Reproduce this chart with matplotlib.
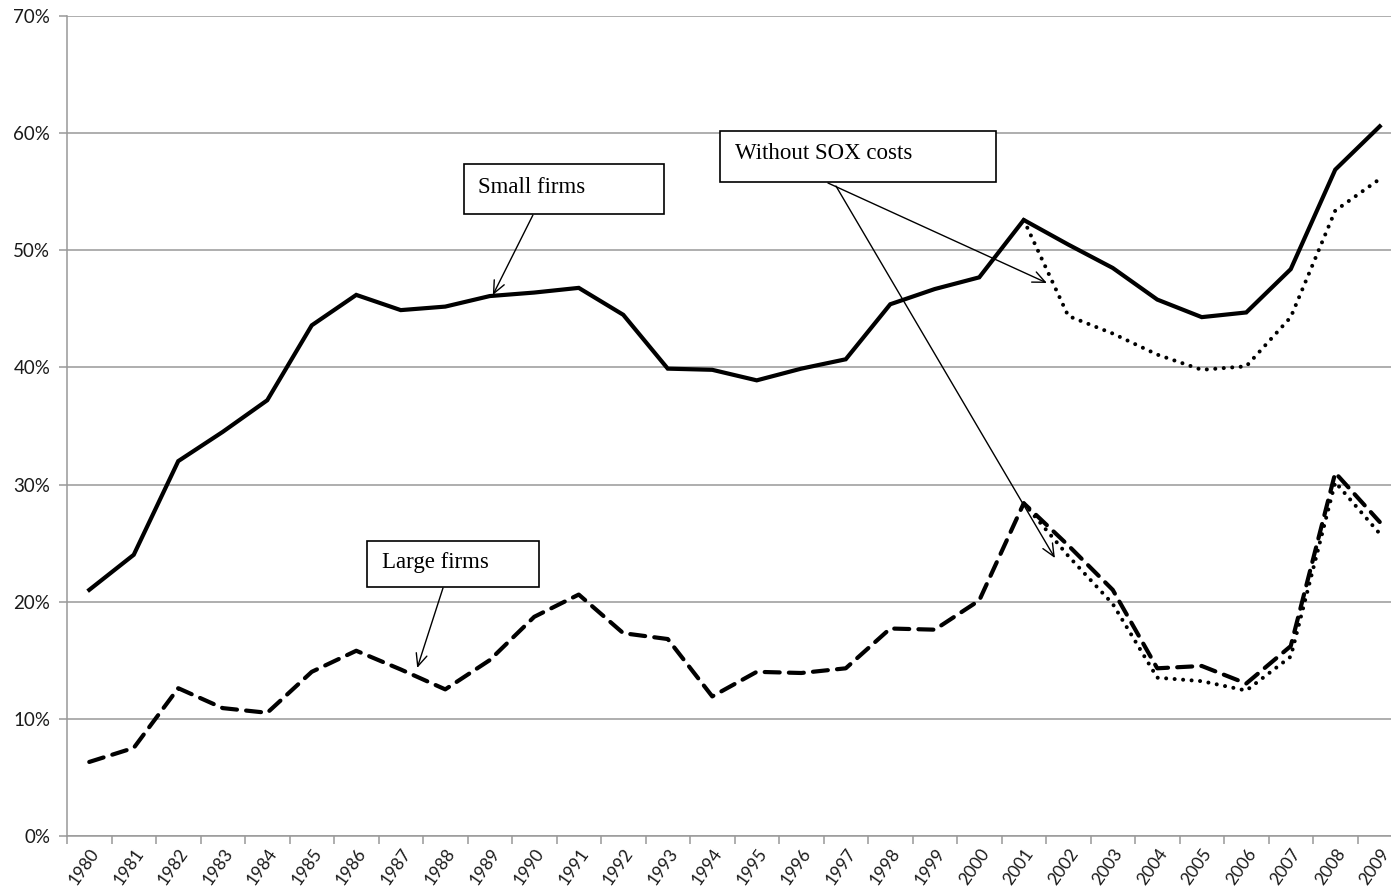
import numpy as np
import matplotlib
matplotlib.use("Agg")
import matplotlib.pyplot as plt
from matplotlib.patches import Rectangle
from matplotlib.ticker import FuncFormatter

years = [str(y) for y in range(1980, 2010)]

small_firms = [0.210, 0.240, 0.320, 0.345, 0.372, 0.436, 0.462, 0.449, 0.452, 0.461,
               0.464, 0.468, 0.445, 0.399, 0.398, 0.389, 0.399, 0.407, 0.454, 0.467,
               0.477, 0.526, 0.505, 0.485, 0.458, 0.443, 0.447, 0.484, 0.569, 0.606]

large_firms = [0.063, 0.075, 0.126, 0.109, 0.105, 0.140, 0.158, 0.142, 0.125, 0.150,
               0.187, 0.206, 0.173, 0.168, 0.119, 0.140, 0.139, 0.143, 0.177, 0.176,
               0.201, 0.284, 0.248, 0.210, 0.143, 0.145, 0.130, 0.162, 0.310, 0.268]

# "without SOX costs" series start in 2001
sox_years = years[21:]
small_no_sox = [0.526, 0.444, 0.429, 0.411, 0.398, 0.401, 0.443, 0.534, 0.561]
large_no_sox = [0.284, 0.239, 0.198, 0.135, 0.132, 0.124, 0.153, 0.302, 0.258]

tick_font = "Lato"
note_font = "Liberation Serif"


def main():
    fig = plt.figure(figsize=(13.91, 8.92), dpi=100)
    # plot area runs a bit past the right edge, as in the original
    ax = fig.add_axes([67 / 1391, 1 - 835.7 / 892, 1335 / 1391, 819.4 / 892])

    x = np.arange(len(years))
    xs = np.arange(len(years) - len(sox_years), len(years))

    ax.plot(x, small_firms, color="black", lw=3.0, solid_joinstyle="miter", zorder=3)
    ax.plot(x, large_firms, color="black", lw=3.0, dashes=(3.6, 2.2),
            dash_capstyle="round", zorder=3)
    ax.plot(xs, small_no_sox, color="black", lw=2.9, dashes=(0.01, 2.1),
            dash_capstyle="round", zorder=4)
    ax.plot(xs, large_no_sox, color="black", lw=2.9, dashes=(0.01, 2.1),
            dash_capstyle="round", zorder=4)

    ax.set_xlim(-0.5, len(years) - 0.5)
    ax.set_ylim(0, 0.70)

    grid_col = "#999999"
    ax.set_yticks(np.arange(0, 0.71, 0.1))
    ax.yaxis.set_major_formatter(FuncFormatter(lambda v, p: f"{v * 100:.0f}%"))
    ax.yaxis.grid(True, color=grid_col, lw=1.1)
    ax.set_axisbelow(True)

    # tick marks between categories, labels centred on them
    ax.set_xticks(np.arange(-0.5, len(years), 1.0))
    ax.set_xticklabels([])
    ax.set_xticks(x, minor=True)
    ax.set_xticklabels(years, minor=True, rotation=55, ha="right", va="top",
                       rotation_mode="anchor", fontsize=12.5, family=tick_font,
                       color="#1a1a1a")
    ax.tick_params(axis="x", which="minor", length=0, pad=7)
    ax.tick_params(axis="x", which="major", length=6, color=grid_col, width=1.1)
    ax.tick_params(axis="y", length=6, color=grid_col, width=1.1, pad=6,
                   labelsize=13.5, labelcolor="#1a1a1a")
    for lab in ax.get_yticklabels():
        lab.set_family(tick_font)

    for side in ["top", "right"]:
        ax.spines[side].set_visible(False)
    for side in ["left", "bottom"]:
        ax.spines[side].set_color(grid_col)
        ax.spines[side].set_linewidth(1.1)

    # callout boxes
    boxes = [
        ((8.42, 0.5311), 4.50, 0.0428, (8.74, 0.549), "Small firms"),
        ((14.17, 0.5584), 6.21, 0.0436, (14.51, 0.578), "Without SOX costs"),
        ((6.24, 0.2125), 3.87, 0.0393, (6.58, 0.2287), "Large firms"),
    ]
    for (bx, by), bw, bh, (tx, ty), txt in boxes:
        ax.add_patch(Rectangle((bx, by), bw, bh, facecolor="white",
                               edgecolor="black", lw=1.2, zorder=5))
        ax.text(tx, ty, txt, family=note_font, fontsize=16.5, va="baseline",
                ha="left", zorder=6)

    arrows = [
        ((9.97, 0.5302), (9.07, 0.4619)),
        ((16.60, 0.5576), (21.52, 0.4722)),
        ((16.78, 0.5550), (21.70, 0.2372)),
        ((7.95, 0.2117), (7.37, 0.1433)),
    ]
    for start, end in arrows:
        ax.annotate("", xy=end, xytext=start, zorder=6,
                    arrowprops=dict(arrowstyle="->,head_length=0.9,head_width=0.4",
                                    lw=1.0, color="black", shrinkA=0, shrinkB=0,
                                    mutation_scale=10))

    fig.savefig("out.png", dpi=100)


if __name__ == "__main__":
    main()
